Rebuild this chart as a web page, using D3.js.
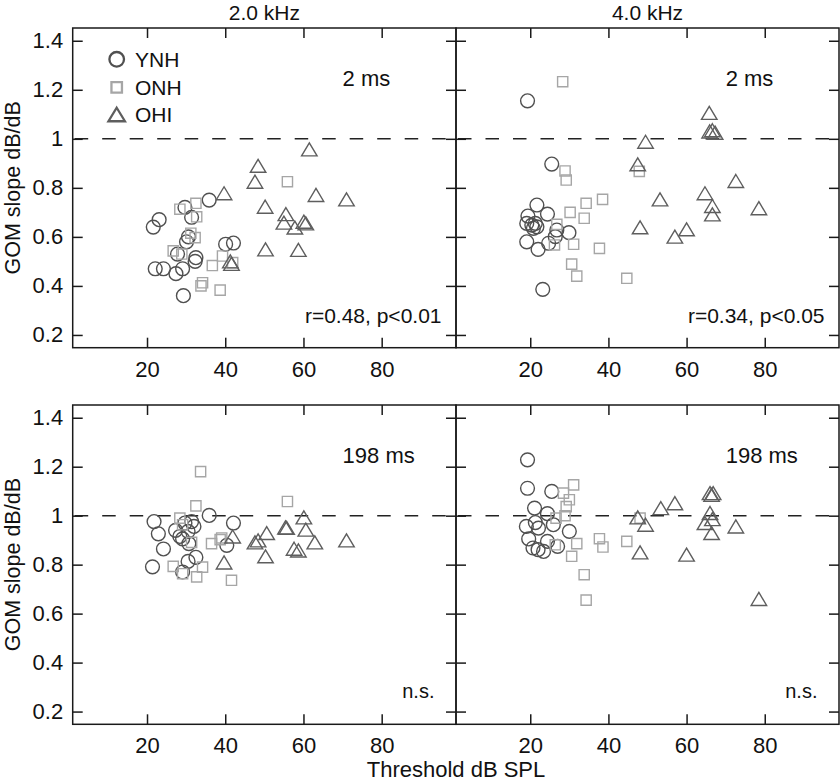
<!DOCTYPE html>
<html>
<head>
<meta charset="utf-8">
<script src="https://cdn.jsdelivr.net/npm/d3@7"></script>
<style>
  html, body { margin: 0; padding: 0; background: #fff; }
  svg text { font-family: "Liberation Sans", Arial, Helvetica, sans-serif; fill: #111; }
</style>
</head>
<body>
<svg id="chart" width="840" height="782"></svg>
<script>
// ---------------- DATA ----------------
const frequencies = ["2.0 kHz", "4.0 kHz"];
const durations = ["2 ms", "198 ms"];
const groups = ["YNH", "ONH", "OHI"];
const statLabels = [["r=0.48, p<0.01", "r=0.34, p<0.05"], ["n.s.", "n.s."]];
const xTicks = [20, 40, 60, 80];
const yTicks = [0.2, 0.4, 0.6, 0.8, 1.0, 1.2, 1.4];
const yTickLabels = ["0.2", "0.4", "0.6", "0.8", "1", "1.2", "1.4"];
const xAxisTitle = "Threshold dB SPL";
const yAxisTitle = "GOM slope dB/dB";

// 2.0 kHz, 2 ms  ([threshold, slope])
const k2_short_YNH = [[21.6,0.64],[23.1,0.67],[22.1,0.47],[24.2,0.47],[27.4,0.45],[29.1,0.47],[29.3,0.36],[27.8,0.53],[30.1,0.58],[30.6,0.60],[29.7,0.72],[31.4,0.68],[35.9,0.75],[32.5,0.515],[32.3,0.50],[40.1,0.57],[42.1,0.575]];
const k2_short_ONH = [[55.9,0.825],[28.4,0.713],[32.5,0.737],[32.7,0.682],[31.2,0.615],[32.3,0.597],[26.7,0.543],[28.9,0.530],[36.7,0.483],[39.3,0.522],[41.9,0.495],[34.2,0.413],[33.8,0.40],[38.7,0.383]];
const k2_short_OHI = [[61.5,0.957],[48.4,0.89],[47.6,0.825],[39.7,0.778],[63.2,0.771],[71.0,0.753],[50.2,0.723],[55.5,0.693],[55.0,0.658],[57.8,0.638],[60.1,0.662],[60.6,0.655],[50.3,0.549],[58.7,0.547],[41.3,0.50],[41.6,0.49]];
// 4.0 kHz, 2 ms
const k4_short_YNH = [[19.3,1.155],[25.5,0.897],[21.7,0.730],[24.4,0.693],[19.4,0.685],[19.1,0.655],[20.4,0.648],[21.3,0.655],[21.7,0.641],[20.8,0.635],[26.8,0.628],[29.9,0.617],[26.4,0.601],[19.1,0.580],[24.7,0.574],[22.0,0.549],[23.2,0.386]];
const k4_short_ONH = [[28.3,1.233],[28.9,0.869],[29.2,0.832],[47.9,0.867],[38.5,0.753],[34.3,0.737],[30.2,0.700],[33.8,0.676],[26.8,0.651],[26.2,0.567],[31.1,0.570],[37.7,0.553],[30.6,0.489],[31.9,0.440],[44.7,0.431]];
const k4_short_OHI = [[65.8,1.106],[65.9,1.03],[66.6,1.035],[67.3,1.025],[49.5,0.988],[47.5,0.896],[72.6,0.828],[64.7,0.778],[53.2,0.753],[66.6,0.726],[78.5,0.717],[66.6,0.692],[48.1,0.639],[60.0,0.631],[57.0,0.601]];
// 2.0 kHz, 198 ms
const k2_long_YNH = [[21.8,0.976],[22.9,0.926],[24.2,0.864],[21.4,0.791],[35.9,1.001],[42.1,0.970],[40.4,0.879],[29.7,0.970],[31.4,0.976],[32.0,0.956],[27.3,0.940],[28.4,0.915],[29.1,0.905],[30.7,0.886],[30.5,0.936],[32.5,0.830],[30.5,0.813],[29.1,0.770]];
const k2_long_ONH = [[33.7,1.18],[32.5,1.04],[55.9,1.058],[28.4,0.990],[29.1,0.963],[39.1,0.909],[38.7,0.902],[36.5,0.886],[31.4,0.891],[26.7,0.793],[34.2,0.790],[29.1,0.763],[32.7,0.750],[41.6,0.736]];
const k2_long_OHI = [[60.1,0.993],[50.6,0.929],[55.4,0.952],[55.7,0.950],[60.6,0.943],[62.9,0.891],[71.0,0.899],[47.6,0.891],[48.4,0.899],[57.6,0.865],[58.7,0.858],[50.3,0.834],[41.9,0.915],[39.7,0.809]];
// 4.0 kHz, 198 ms
const k4_long_YNH = [[19.3,1.228],[19.3,1.112],[25.5,1.099],[21.1,1.031],[24.4,1.008],[21.3,0.972],[19.0,0.956],[22.1,0.949],[25.9,0.963],[30.0,0.936],[19.6,0.905],[24.4,0.895],[27.0,0.875],[20.7,0.868],[22.0,0.861],[23.4,0.854]];
const k4_long_ONH = [[31.1,1.126],[28.5,1.092],[30.0,1.065],[29.2,1.037],[28.9,1.0],[26.6,0.990],[48.1,0.990],[31.9,0.886],[37.7,0.906],[38.6,0.872],[44.7,0.895],[26.4,0.881],[30.6,0.834],[33.8,0.759],[34.3,0.655]];
const k4_long_OHI = [[66.0,1.092],[66.8,1.092],[66.4,1.085],[57.0,1.051],[53.4,1.031],[47.5,0.993],[49.5,0.963],[66.0,1.011],[66.6,0.986],[64.7,0.970],[72.6,0.956],[66.4,0.929],[48.1,0.850],[60.0,0.841],[78.5,0.660]];

// panel table built from the named arrays: [row][col]
const panelData = [
  [{YNH: k2_short_YNH, ONH: k2_short_ONH, OHI: k2_short_OHI}, {YNH: k4_short_YNH, ONH: k4_short_ONH, OHI: k4_short_OHI}],
  [{YNH: k2_long_YNH,  ONH: k2_long_ONH,  OHI: k2_long_OHI},  {YNH: k4_long_YNH,  ONH: k4_long_ONH,  OHI: k4_long_OHI}]
];

// ---------------- LAYOUT / STYLE ----------------
const colX = [[72.7, 456], [456, 839]];
const rowY = [[347.7, 28], [724.3, 405]];
const xDomain = [1, 99];
const yDomain = [0.148, 1.452];
const axisColor = "#1a1a1a";
const groupStyle = {
  YNH: {stroke: "#505050"},
  ONH: {stroke: "#a6a6a6"},
  OHI: {stroke: "#5e5e5e"}
};

const svg = d3.select("#chart");

function symbolPath(g, size) {
  if (g === "YNH") {
    const r = size.r;
    return `M${r},0A${r},${r} 0 1,1 ${-r},0A${r},${r} 0 1,1 ${r},0Z`;
  } else if (g === "ONH") {
    const s = size.s / 2;
    return `M${-s},${-s}H${s}V${s}H${-s}Z`;
  } else {
    const w = size.tw / 2, h = size.th / 2;
    return `M0,${-h}L${w},${h}L${-w},${h}Z`;
  }
}
const dataSize = {r: 6.9, s: 10.2, tw: 15.5, th: 13};
const legendSize = {r: 7.3, s: 10.5, tw: 16.5, th: 13.5};

for (let row = 0; row < 2; row++) {
  for (let col = 0; col < 2; col++) {
    const x = d3.scaleLinear().domain(xDomain).range(colX[col]);
    const y = d3.scaleLinear().domain(yDomain).range(rowY[row]);
    const g = svg.append("g");

    // dashed reference at slope 1
    g.append("line")
      .attr("x1", x.range()[0]).attr("x2", x.range()[1])
      .attr("y1", y(1)).attr("y2", y(1))
      .attr("stroke", "#222").attr("stroke-width", 1.4)
      .attr("stroke-dasharray", "13.5,14").attr("stroke-dashoffset", -2);

    // axes (ticks pointing inward)
    const fmtY = (d) => yTickLabels[yTicks.indexOf(d)];
    const bottom = d3.axisBottom(x).tickValues(xTicks).tickSize(-10).tickPadding(13.5).tickSizeOuter(0);
    const top = d3.axisTop(x).tickValues(xTicks).tickSize(-10).tickFormat("").tickSizeOuter(0);
    const left = d3.axisLeft(y).tickValues(yTicks).tickSize(-10).tickPadding(9.5).tickSizeOuter(0)
      .tickFormat(col === 0 ? fmtY : "");
    const right = d3.axisRight(y).tickValues(yTicks).tickSize(-10).tickFormat("").tickSizeOuter(0);

    const styleAxis = (sel) => {
      sel.select(".domain").remove();
      sel.selectAll(".tick line").attr("stroke", axisColor).attr("stroke-width", 1.5);
      sel.selectAll(".tick text").attr("fill", "#111")
        .style("font-size", "22px").style("font-family", '"Liberation Sans", Arial, Helvetica, sans-serif');
    };
    g.append("g").attr("transform", `translate(0,${y.range()[0]})`).call(bottom).call(styleAxis);
    g.append("g").attr("transform", `translate(0,${y.range()[1]})`).call(top).call(styleAxis);
    g.append("g").attr("transform", `translate(${x.range()[0]},0)`).call(left).call(styleAxis);
    g.append("g").attr("transform", `translate(${x.range()[1]},0)`).call(right).call(styleAxis);

    // frame
    g.append("rect")
      .attr("x", x.range()[0]).attr("y", y.range()[1])
      .attr("width", x.range()[1] - x.range()[0])
      .attr("height", y.range()[0] - y.range()[1])
      .attr("fill", "none").attr("stroke", axisColor).attr("stroke-width", 1.5);

    // data markers
    const pd = panelData[row][col];
    groups.forEach((grp) => {
      g.append("g").selectAll("path")
        .data(pd[grp])
        .join("path")
        .attr("transform", (d) => `translate(${x(d[0])},${y(d[1])})`)
        .attr("d", symbolPath(grp, dataSize))
        .attr("fill", "none")
        .attr("stroke", groupStyle[grp].stroke)
        .attr("stroke-width", 1.4);
    });

    // duration label
    g.append("text")
      .attr("x", x(70)).attr("y", y(1.215))
      .attr("text-anchor", "start")
      .style("font-size", "22px")
      .text(durations[row]);

    // statistics label
    const stat = statLabels[row][col];
    const isNS = stat === "n.s.";
    g.append("text")
      .attr("x", x(isNS ? 93.5 : 95.3)).attr("y", y(isNS ? 0.257 : 0.249))
      .attr("text-anchor", "end")
      .style("font-size", isNS ? "20px" : "21px")
      .text(stat);

    // column title
    if (row === 0) {
      svg.append("text")
        .attr("x", (colX[col][0] + colX[col][1]) / 2).attr("y", 19.5)
        .attr("text-anchor", "middle")
        .style("font-size", "21px")
        .text(frequencies[col]);
    }
    // y axis title
    if (col === 0) {
      const cy = (rowY[row][0] + rowY[row][1]) / 2;
      svg.append("text")
        .attr("transform", `translate(20,${cy}) rotate(-90)`)
        .attr("text-anchor", "middle")
        .style("font-size", "21.5px")
        .text(yAxisTitle);
    }
    // legend in first panel
    if (row === 0 && col === 0) {
      const legY = [59.3, 87.3, 114.5];
      const lg = g.append("g");
      groups.forEach((grp, i) => {
        lg.append("path")
          .attr("transform", `translate(116.7,${legY[i]})`)
          .attr("d", symbolPath(grp, legendSize))
          .attr("fill", "none")
          .attr("stroke", groupStyle[grp].stroke)
          .attr("stroke-width", 2.3);
        lg.append("text")
          .attr("x", 135).attr("y", legY[i] + 7.3)
          .style("font-size", "21px")
          .text(grp);
      });
    }
  }
}

// x axis title
svg.append("text")
  .attr("x", 456).attr("y", 777)
  .attr("text-anchor", "middle")
  .style("font-size", "22px")
  .text(xAxisTitle);
</script>
</body>
</html>
